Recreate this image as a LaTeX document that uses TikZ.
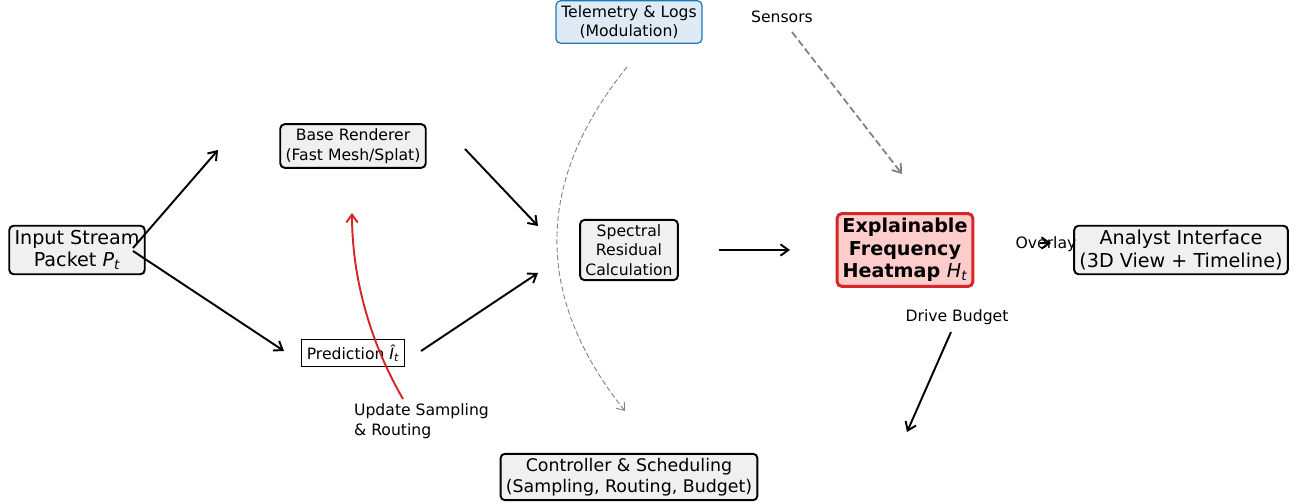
\documentclass[tikz,border=0pt]{standalone}
\usepackage{fontspec}
\setmainfont{DejaVu Sans}
\usepackage{tikz}
\usetikzlibrary{arrows.meta}
\definecolor{boxgray}{RGB}{240,240,240}
\definecolor{hotred}{RGB}{214,39,40}
\definecolor{hotfill}{RGB}{255,204,204}
\definecolor{logblue}{RGB}{31,119,180}
\definecolor{logfill}{RGB}{222,235,247}
\definecolor{dashgray}{RGB}{128,128,128}
\newcommand{\lblfont}{\fontsize{8.9}{11.2}\selectfont}
\newcommand{\boxfont}{\fontsize{10.9}{12.9}\selectfont}
\newcommand{\midfont}{\fontsize{9.9}{11.8}\selectfont}
\tikzset{
  block/.style={rectangle, draw=black, fill=boxgray, align=center, rounded corners=2.5pt, line width=1.1pt, inner xsep=3pt, inner ysep=2.5pt, font=\boxfont},
  smallblock/.style={block, font=\lblfont},
  redblock/.style={block, draw=hotred, fill=hotfill, line width=1.7pt},
  blueblock/.style={block, draw=logblue, fill=logfill, line width=0.7pt, font=\lblfont},
  plainblock/.style={rectangle, draw=black, fill=white, line width=0.6pt, inner xsep=3pt, inner ysep=3pt, font=\lblfont},
  lbl/.style={font=\lblfont, inner sep=1pt},
  arrow/.style={-{Straight Barb[length=4.5pt,width=6.5pt]}, line width=1.1pt, color=black},
  grayarrow/.style={-{Straight Barb[length=4.5pt,width=6.5pt]}, line width=1pt, color=dashgray, dash pattern=on 4pt off 2pt},
  thingray/.style={-{Straight Barb[length=4pt,width=6pt]}, line width=0.5pt, color=dashgray, dash pattern=on 3pt off 1.5pt},
  redarrow/.style={-{Straight Barb[length=4.5pt,width=6.5pt]}, line width=1.1pt, color=hotred}
}
\begin{document}
\begin{tikzpicture}[x=0.02cm, y=-0.02cm]
  \useasboundingbox (0,0) rectangle (1303,504);

  % Boxes
  \node[block] (input) at (77,250) {Input Stream\\Packet {\itshape P}\textsubscript{\itshape t}};
  \node[smallblock] (base) at (353,146) {Base Renderer\\(Fast Mesh/Splat)};
  \node[plainblock] (pred) at (353,353) {Prediction {\itshape Î}\textsubscript{\itshape t}};
  \node[smallblock] (spec) at (629,250) {Spectral\\Residual\\Calculation};
  \node[redblock] (heat) at (905,250) {\bfseries Explainable\\\bfseries Frequency\\\bfseries Heatmap {\mdseries\itshape H\textsubscript{t}}};
  \node[block] (analyst) at (1181,250) {Analyst Interface\\(3D View + Timeline)};
  \node[block, font=\midfont] (ctrl) at (629,477) {Controller \& Scheduling\\(Sampling, Routing, Budget)};
  \node[blueblock] (logs) at (629,22) {Telemetry \& Logs\\(Modulation)};

  % Labels
  \node[lbl] (sensors) at (782,17) {Sensors};
  \node[lbl] (budget) at (957,317) {Drive Budget};
  \node[lbl] (overlay) at (1046,244) {Overlay};
  \node[lbl, align=left, anchor=north west] (update) at (352,402) {Update Sampling\\\& Routing};

  % Arrow ends
  \coordinate (inA) at (133,248);
  \coordinate (inB) at (133,251);
  \coordinate (baseIn) at (218,150);
  \coordinate (predIn) at (284,351);
  \coordinate (baseOut) at (465,149);
  \coordinate (predOut) at (421,351);
  \coordinate (specInA) at (538,226);
  \coordinate (specInB) at (538,273);
  \coordinate (specOut) at (719,250);
  \coordinate (heatIn) at (790,250);
  \coordinate (ovA) at (1040,243);
  \coordinate (ovB) at (1051,243);
  \coordinate (budA) at (951,332);
  \coordinate (budB) at (907,432);
  \coordinate (senA) at (792,32);
  \coordinate (senB) at (902,174);
  \coordinate (logA) at (627,67);
  \coordinate (logB) at (625,411);
  \coordinate (updA) at (403,399);
  \coordinate (updB) at (352,213);

  % Flow
  \draw[arrow] (inA) -- (baseIn);
  \draw[arrow] (inB) -- (predIn);
  \draw[arrow] (baseOut) -- (specInA);
  \draw[arrow] (predOut) -- (specInB);
  \draw[arrow] (specOut) -- (heatIn);
  \draw[arrow] (ovA) -- (ovB);
  \draw[arrow] (budA) -- (budB);

  % Feedback and side inputs
  \draw[grayarrow] (senA) -- (senB);
  \draw[thingray] (logA) .. controls (534,182) and (534,297) .. (logB);
  \draw[redarrow] (updA) .. controls (366,335) and (352,270) .. (updB);
\end{tikzpicture}
\end{document}
